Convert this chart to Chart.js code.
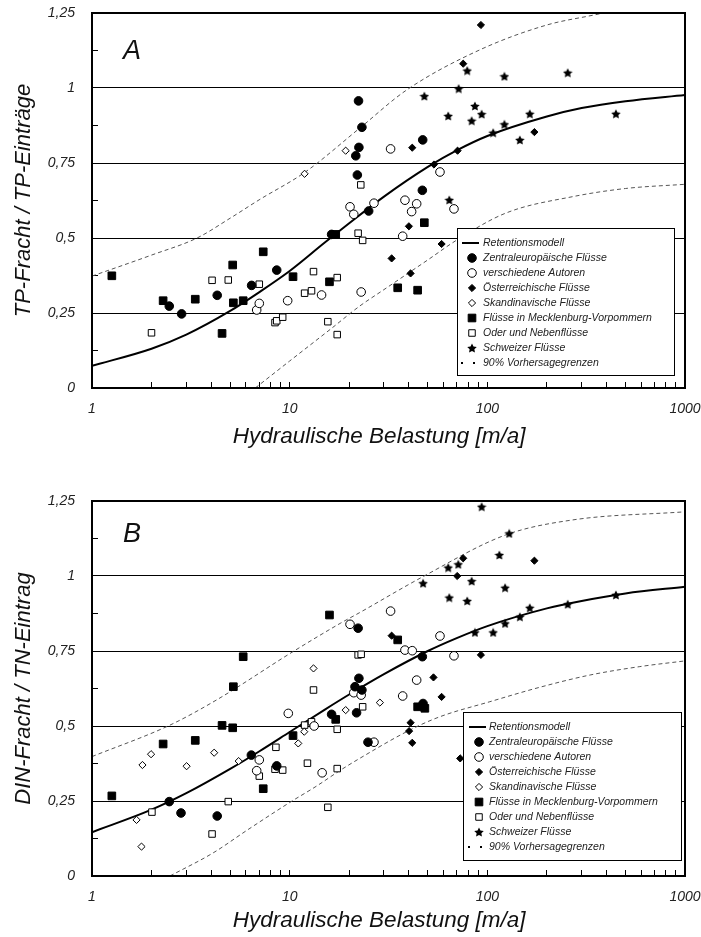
<!DOCTYPE html>
<html lang="de">
<head>
<meta charset="utf-8">
<title>Retention TP / DIN</title>
<script src="https://cdn.jsdelivr.net/npm/chart.js"></script>
<style>
  body { margin: 0; background: #fff; }
  canvas { display: block; }
</style>
</head>
<body>
<canvas id="chartA" width="701" height="468"></canvas>
<canvas id="chartB" width="701" height="469"></canvas>
<script>
// values: [Hydraulische Belastung, Fracht/Eintrag]
const seriesLabels = ['Zentraleuropäische Flüsse', 'verschiedene Autoren', 'Österreichische Flüsse',
  'Skandinavische Flüsse', 'Flüsse in Mecklenburg-Vorpommern', 'Oder und Nebenflüsse', 'Schweizer Flüsse'];
const xTickLabels = [1, 10, 100, 1000];
const yTickValues = [0, 0.25, 0.5, 0.75, 1, 1.25];
const yTickLabels = ['0', '0,25', '0,5', '0,75', '1', '1,25'];

// Panel A: TP
const aZentral = [[2.46,0.273],[2.84,0.247],[4.3,0.309],[6.42,0.342],[8.6,0.393],[16.3,0.512],[25.1,0.59],[22.0,0.71],[21.6,0.774],[22.4,0.802],[23.2,0.869],[22.3,0.957],[46.9,0.659],[47.1,0.827]];
const aAutoren = [[6.81,0.26],[7.02,0.282],[9.77,0.291],[14.5,0.31],[23.0,0.32],[20.2,0.604],[21.1,0.579],[26.7,0.616],[32.4,0.797],[37.3,0.506],[38.3,0.626],[43.9,0.614],[41.4,0.588],[57.6,0.72],[67.8,0.597]];
const aOesterreich = [[32.8,0.432],[40.9,0.382],[40.1,0.539],[58.7,0.48],[53.7,0.745],[70.7,0.791],[41.7,0.801],[75.5,1.081],[92.8,1.21],[173,0.853]];
const aSkandinavien = [[11.9,0.714],[19.2,0.791]];
const aMV = [[1.26,0.374],[2.29,0.291],[3.33,0.296],[4.55,0.182],[5.15,0.41],[5.19,0.284],[5.82,0.291],[7.35,0.454],[10.4,0.371],[15.9,0.354],[17.1,0.512],[35.2,0.334],[44.4,0.326],[48.0,0.551]];
const aOder = [[2.0,0.184],[4.05,0.359],[4.89,0.36],[7.02,0.346],[8.43,0.218],[8.6,0.224],[9.22,0.236],[11.9,0.316],[12.9,0.324],[13.2,0.388],[15.6,0.221],[17.4,0.368],[17.4,0.178],[22.2,0.516],[23.4,0.492],[22.9,0.677]];
const aSchweiz = [[48.0,0.973],[63.4,0.907],[64.2,0.627],[71.6,0.998],[79.1,1.058],[83.3,0.891],[86.5,0.94],[93.6,0.913],[107,0.851],[122,0.879],[122,1.039],[146,0.827],[164,0.914],[255,1.051],[447,0.914]];
const aModell = [[1,0.074],[2,0.131],[3,0.178],[5,0.257],[7,0.319],[10,0.39],[15,0.484],[20,0.549],[30,0.638],[50,0.737],[70,0.792],[100,0.84],[200,0.905],[300,0.933],[500,0.956],[1000,0.977]];
const aOben = [[1,0.373],[2,0.443],[3.4,0.5],[5,0.566],[7,0.627],[12,0.72],[22.6,0.866],[39,0.993],[91.5,1.127],[200,1.21],[344,1.243],[400,1.252]];
const aUnten = [[6.7,0],[10,0.09],[16.3,0.199],[22.6,0.273],[30,0.328],[50,0.427],[70,0.493],[124,0.583],[271,0.638],[500,0.665],[1000,0.679]];

// Panel B: DIN / TN
const bZentral = [[2.46,0.248],[2.82,0.21],[4.3,0.2],[6.4,0.403],[8.6,0.367],[16.3,0.539],[21.8,0.544],[22.4,0.659],[21.4,0.631],[23.2,0.62],[22.2,0.826],[24.9,0.446],[46.9,0.731],[47.3,0.575]];
const bAutoren = [[6.81,0.351],[7.02,0.387],[9.84,0.542],[13.3,0.5],[14.6,0.344],[20.2,0.839],[21.1,0.611],[23.0,0.603],[26.7,0.446],[32.4,0.883],[37.3,0.6],[38.3,0.753],[41.7,0.751],[43.9,0.653],[57.6,0.8],[67.8,0.734]];
const bOesterreich = [[32.8,0.801],[40.9,0.511],[40.2,0.483],[41.7,0.444],[53.4,0.662],[58.7,0.597],[72.9,0.392],[70.4,1.0],[75.5,1.059],[92.8,0.737],[173,1.051]];
const bSkandinavien = [[1.68,0.187],[1.78,0.098],[1.8,0.37],[1.99,0.406],[3.01,0.366],[4.15,0.411],[5.52,0.383],[11.05,0.442],[11.85,0.481],[13.2,0.692],[19.2,0.553],[28.6,0.578]];
const bMV = [[1.26,0.267],[2.29,0.44],[3.33,0.452],[4.55,0.502],[5.15,0.494],[5.19,0.631],[5.82,0.731],[7.35,0.291],[10.4,0.468],[15.9,0.87],[17.1,0.522],[35.2,0.787],[44.4,0.564],[48.3,0.559]];
const bOder = [[2.01,0.213],[4.05,0.14],[4.89,0.248],[7.02,0.333],[8.52,0.429],[8.43,0.356],[9.22,0.353],[11.9,0.503],[12.9,0.514],[12.3,0.376],[13.2,0.62],[15.6,0.229],[17.4,0.489],[17.4,0.358],[22.2,0.737],[23.0,0.739],[23.4,0.564]];
const bSchweiz = [[47.3,0.976],[63.4,1.028],[71.3,1.039],[64.2,0.928],[79.1,0.917],[83.3,0.983],[93.6,1.231],[86.5,0.812],[107,0.812],[115,1.07],[123,0.961],[123,0.842],[129,1.142],[146,0.864],[164,0.894],[255,0.906],[447,0.937]];
const bModell = [[1,0.146],[2,0.221],[3,0.276],[5,0.357],[7,0.415],[10,0.48],[15,0.554],[20,0.605],[30,0.673],[50,0.75],[70,0.793],[100,0.833],[200,0.892],[300,0.917],[500,0.942],[1000,0.964]];
const bOben = [[1,0.398],[2.48,0.503],[4.27,0.587],[10.4,0.748],[18,0.842],[22.6,0.878],[47.3,0.998],[124,1.137],[271,1.187],[1000,1.214]];
const bUnten = [[2.48,0],[4.1,0.077],[6.1,0.153],[10,0.245],[13.7,0.3],[18,0.352],[22.6,0.392],[40.7,0.487],[57.6,0.531],[103,0.581],[184,0.629],[331,0.67],[591,0.698],[1000,0.717]];

Chart.defaults.font.family = "'Liberation Sans', Arial, sans-serif";
Chart.defaults.font.style = 'italic';
Chart.defaults.color = '#222';

function makeStar(size) {
  const c = document.createElement('canvas');
  c.width = c.height = size;
  const g = c.getContext('2d');
  g.beginPath();
  for (let i = 0; i < 10; i++) {
    const r = i % 2 ? size * 0.25 : size / 2;
    const a = -Math.PI / 2 + i * Math.PI / 5;
    g.lineTo(size / 2 + r * Math.cos(a), size / 2 + 0.5 + r * Math.sin(a));
  }
  g.closePath();
  g.fillStyle = '#000';
  g.fill();
  return c;
}
const starImg = makeStar(10);

// marker look per series, same order as seriesLabels
const markers = [
  { style: 'circle', r: 4.3, fill: '#000' },
  { style: 'circle', r: 4.3, fill: '#fff' },
  { style: 'rectRot', r: 3.6, fill: '#000' },
  { style: 'rectRot', r: 3.6, fill: '#fff' },
  { style: 'rect', r: 5.4, fill: '#000' },
  { style: 'rect', r: 4.6, fill: '#fff' },
  { style: starImg, r: 5, fill: '#000' }
];

const pts = arr => arr.map(p => ({ x: p[0], y: p[1] }));

const xTickValues = [];
[1, 10, 100].forEach(d => { for (let k = 1; k < 10; k++) xTickValues.push(k * d); });
xTickValues.push(1000);
const yMinorValues = [];
for (let k = 0; k <= 10; k++) yMinorValues.push(k * 0.125);

function drawMarker(ctx, m, x, y) {
  if (m.style instanceof HTMLCanvasElement) {
    ctx.drawImage(m.style, x - m.style.width / 2, y - m.style.height / 2);
    return;
  }
  ctx.beginPath();
  if (m.style === 'circle') ctx.arc(x, y, m.r, 0, Math.PI * 2);
  else if (m.style === 'rect') { const s = m.r * Math.SQRT1_2; ctx.rect(x - s, y - s, 2 * s, 2 * s); }
  else { ctx.moveTo(x, y - m.r); ctx.lineTo(x + m.r, y); ctx.lineTo(x, y + m.r); ctx.lineTo(x - m.r, y); ctx.closePath(); }
  ctx.fillStyle = m.fill;
  ctx.fill();
  ctx.lineWidth = 1;
  ctx.strokeStyle = '#000';
  ctx.stroke();
}

const panelDecor = {
  id: 'panelDecor',
  afterDatasetsDraw(chart, args, o) {
    const { ctx, chartArea: a } = chart;
    ctx.save();
    // frame
    ctx.strokeStyle = '#000';
    ctx.lineWidth = 2;
    ctx.strokeRect(a.left, a.top, a.right - a.left, a.bottom - a.top);
    // panel letter
    ctx.fillStyle = '#111';
    ctx.font = "italic 27px 'Liberation Sans', Arial, sans-serif";
    ctx.textAlign = 'center';
    ctx.textBaseline = 'middle';
    ctx.fillText(o.letter, a.left + o.letterDx, a.top + o.letterDy);
    // legend box
    const L = o.legend;
    ctx.fillStyle = '#fff';
    ctx.fillRect(L.x, L.y, L.w, L.h);
    ctx.lineWidth = 1;
    ctx.strokeRect(L.x + 0.5, L.y + 0.5, L.w, L.h);
    ctx.font = "italic 10.5px 'Liberation Sans', Arial, sans-serif";
    ctx.textAlign = 'left';
    let y = L.y + L.first;
    chart.data.datasets.forEach(ds => {
      if (!ds.legendKind) return;
      const sx = L.x + L.sym;
      if (ds.legendKind === 'line') {
        ctx.strokeStyle = '#000';
        ctx.lineWidth = 2;
        ctx.beginPath(); ctx.moveTo(sx - 10, y); ctx.lineTo(sx + 7, y); ctx.stroke();
      } else if (ds.legendKind === 'dots') {
        ctx.fillStyle = '#000';
        ctx.fillRect(sx - 11, y - 1, 2, 2);
        ctx.fillRect(sx + 1, y - 1, 2, 2);
      } else {
        drawMarker(ctx, ds.legendKind, sx, y);
      }
      ctx.fillStyle = '#222';
      ctx.fillText(ds.label, L.x + L.text, y);
      y += L.step;
    });
    ctx.restore();
  }
};

function buildChart(id, p) {
  const datasets = [{
    label: 'Retentionsmodell', data: pts(p.modell), showLine: true, borderColor: '#000', borderWidth: 2,
    pointRadius: 0, cubicInterpolationMode: 'monotone', order: 1, legendKind: 'line'
  }];
  p.series.forEach((s, i) => {
    const m = markers[i];
    datasets.push({
      label: seriesLabels[i], data: pts(s), pointStyle: m.style, pointRadius: m.r,
      pointBackgroundColor: m.fill, pointBorderColor: '#000', pointBorderWidth: 1, order: 0, legendKind: m
    });
  });
  datasets.push({
    label: '90% Vorhersagegrenzen', data: pts(p.oben), showLine: true, borderColor: '#555', borderWidth: 1,
    borderDash: [4, 3], pointRadius: 0, cubicInterpolationMode: 'monotone', order: 1, legendKind: 'dots'
  });
  datasets.push({
    label: '90% Vorhersagegrenzen', data: pts(p.unten), showLine: true, borderColor: '#555', borderWidth: 1,
    borderDash: [4, 3], pointRadius: 0, cubicInterpolationMode: 'monotone', order: 1
  });

  return new Chart(document.getElementById(id), {
    type: 'scatter',
    data: { datasets },
    plugins: [panelDecor],
    options: {
      responsive: false,
      animation: false,
      layout: { padding: { top: p.padTop, right: 16, bottom: 0, left: 0 } },
      plugins: {
        legend: { display: false },
        tooltip: { enabled: false },
        panelDecor: { letter: p.letter, letterDx: 40, letterDy: p.letterDy, legend: p.legend }
      },
      scales: {
        x: {
          type: 'logarithmic', min: 1, max: 1000,
          afterBuildTicks: s => { s.ticks = xTickValues.map(v => ({ value: v })); },
          afterFit: s => { s.height = p.xHeight; s.paddingLeft = 0; s.paddingRight = 0; },
          ticks: {
            autoSkip: false, maxRotation: 0, padding: 19, color: '#222',
            font: { size: 14, style: 'italic' },
            callback: v => xTickLabels.includes(v) ? String(v) : ''
          },
          grid: { drawOnChartArea: false, tickLength: -6, tickColor: '#000', tickWidth: 1 },
          border: { color: '#000', width: 2 },
          title: {
            // trailing spaces shift the centred title a little to the left, as in the original
            display: true, text: 'Hydraulische Belastung [m/a]   ', color: '#111',
            font: { size: 22.5, style: 'italic' }, padding: { top: 0, bottom: p.titlePad }
          }
        },
        y: {
          min: 0, max: 1.25,
          afterBuildTicks: s => { s.ticks = yMinorValues.map(v => ({ value: v })); },
          afterFit: s => { s.width = 92; s.paddingTop = 0; s.paddingBottom = 0; },
          ticks: {
            autoSkip: false, padding: 23, color: '#222', font: { size: 14, style: 'italic' },
            callback: v => { const i = yTickValues.indexOf(v); return i >= 0 ? yTickLabels[i] : ''; }
          },
          grid: {
            color: c => (c.tick && yTickValues.includes(c.tick.value)) ? '#000' : 'rgba(0,0,0,0)',
            tickColor: '#000', tickLength: -6, lineWidth: 1
          },
          border: { color: '#000', width: 2 },
          title: {
            display: true, text: p.yTitle, color: '#111',
            font: { size: 22, style: 'italic' }, padding: { top: 11, bottom: 0 }
          }
        }
      }
    }
  });
}

buildChart('chartA', {
  letter: 'A', letterDy: 38, padTop: 13, xHeight: 80, titlePad: 18,
  yTitle: 'TP-Fracht / TP-Einträge',
  series: [aZentral, aAutoren, aOesterreich, aSkandinavien, aMV, aOder, aSchweiz],
  modell: aModell, oben: aOben, unten: aUnten,
  legend: { x: 457, y: 228, w: 217, h: 147, first: 15, step: 15, sym: 15, text: 26 }
});

buildChart('chartB', {
  letter: 'B', letterDy: 33, padTop: 33, xHeight: 61, titlePad: 3,
  yTitle: 'DIN-Fracht / TN-Eintrag',
  series: [bZentral, bAutoren, bOesterreich, bSkandinavien, bMV, bOder, bSchweiz],
  modell: bModell, oben: bOben, unten: bUnten,
  legend: { x: 463, y: 244, w: 218, h: 148, first: 15, step: 15, sym: 16, text: 26 }
});
</script>
</body>
</html>
